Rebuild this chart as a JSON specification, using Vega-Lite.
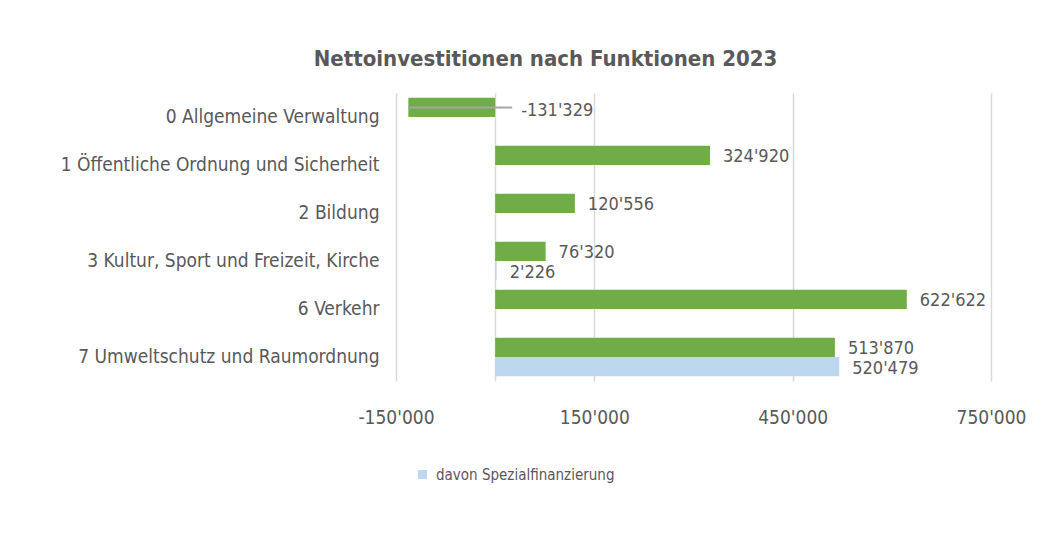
{
  "$schema": "https://vega.github.io/schema/vega-lite/v6.json",
  "width": 595,
  "height": 288,
  "autosize": "none",
  "padding": {"left": 396, "top": 93, "right": 70, "bottom": 167},
  "background": "white",
  "config": {
    "locale": {"number": {"decimal": ".", "thousands": "'", "grouping": [3], "currency": ["", ""], "minus": "-"}},
    "view": {"stroke": null},
    "font": "DejaVu Sans Condensed, Liberation Sans"
  },
  "title": {
    "text": "Nettoinvestitionen nach Funktionen 2023",
    "fontSize": 22,
    "fontWeight": "bold",
    "color": "#595959",
    "anchor": "middle",
    "dx": -148,
    "offset": 5,
    "baseline": "alphabetic"
  },
  "data": {
    "values": [
      {"Funktion": "0 Allgemeine Verwaltung", "Serie": "Nettoinvestitionen", "Wert": -131329},
      {"Funktion": "1 Öffentliche Ordnung und Sicherheit", "Serie": "Nettoinvestitionen", "Wert": 324920},
      {"Funktion": "2 Bildung", "Serie": "Nettoinvestitionen", "Wert": 120556},
      {"Funktion": "3 Kultur, Sport und Freizeit, Kirche", "Serie": "Nettoinvestitionen", "Wert": 76320},
      {"Funktion": "3 Kultur, Sport und Freizeit, Kirche", "Serie": "davon Spezialfinanzierung", "Wert": 2226},
      {"Funktion": "6 Verkehr", "Serie": "Nettoinvestitionen", "Wert": 622622},
      {"Funktion": "7 Umweltschutz und Raumordnung", "Serie": "Nettoinvestitionen", "Wert": 513870},
      {"Funktion": "7 Umweltschutz und Raumordnung", "Serie": "davon Spezialfinanzierung", "Wert": 520479}
    ]
  },
  "encoding": {
    "y": {
      "field": "Funktion",
      "type": "nominal",
      "sort": null,
      "scale": {"paddingInner": 0.2, "paddingOuter": 0.1},
      "axis": {
        "title": null,
        "ticks": false,
        "domain": false,
        "labelPadding": 17,
        "labelFontSize": 19,
        "labelColor": "#595959",
        "labelLimit": 400
      }
    },
    "yOffset": {
      "field": "Serie",
      "type": "nominal",
      "scale": {"domain": ["Nettoinvestitionen", "davon Spezialfinanzierung"]}
    }
  },
  "layer": [
    {
      "mark": {"type": "bar"},
      "encoding": {
        "x": {
          "field": "Wert",
          "type": "quantitative",
          "scale": {"domain": [-150000, 750000], "nice": false, "zero": false},
          "axis": {
            "title": null,
            "values": [-150000, 0, 150000, 450000, 750000],
            "labelExpr": "datum.value == 0 ? '' : format(datum.value, ',')",
            "grid": true,
            "gridColor": "#d9d9d9",
            "gridWidth": 1.5,
            "ticks": false,
            "domain": false,
            "labelPadding": 27,
            "labelFontSize": 19,
            "labelColor": "#595959",
            "labelFlush": false
          }
        },
        "color": {
          "field": "Serie",
          "type": "nominal",
          "scale": {"domain": ["Nettoinvestitionen", "davon Spezialfinanzierung"], "range": ["#70AD47", "#BDD7EE"]},
          "legend": {
            "values": ["davon Spezialfinanzierung"],
            "title": null,
            "orient": "none",
            "legendX": 19,
            "legendY": 374,
            "padding": 0,
            "symbolType": "square",
            "symbolSize": 80,
            "symbolStrokeWidth": 0,
            "labelFontSize": 15,
            "labelColor": "#595959",
            "labelOffset": 6,
            "labelLimit": 400
          }
        }
      }
    },
    {
      "transform": [{"filter": "datum.Wert < 0"}],
      "mark": {"type": "rule", "color": "#a6a6a6", "strokeWidth": 2, "yOffset": -7, "x2Offset": 17},
      "encoding": {
        "x": {"field": "Wert", "type": "quantitative"},
        "x2": {"datum": 0}
      }
    },
    {
      "transform": [{"filter": "datum.Wert >= 0"}],
      "mark": {"type": "text", "align": "left", "baseline": "middle", "dx": 13, "dy": 2, "fontSize": 18, "color": "#595959"},
      "encoding": {
        "x": {"field": "Wert", "type": "quantitative"},
        "text": {"field": "Wert", "type": "quantitative", "format": ","}
      }
    },
    {
      "transform": [{"filter": "datum.Wert < 0"}],
      "mark": {"type": "text", "align": "left", "baseline": "middle", "dx": 26, "dy": 4, "fontSize": 18, "color": "#595959"},
      "encoding": {
        "x": {"datum": 0},
        "text": {"field": "Wert", "type": "quantitative", "format": ","}
      }
    }
  ]
}
